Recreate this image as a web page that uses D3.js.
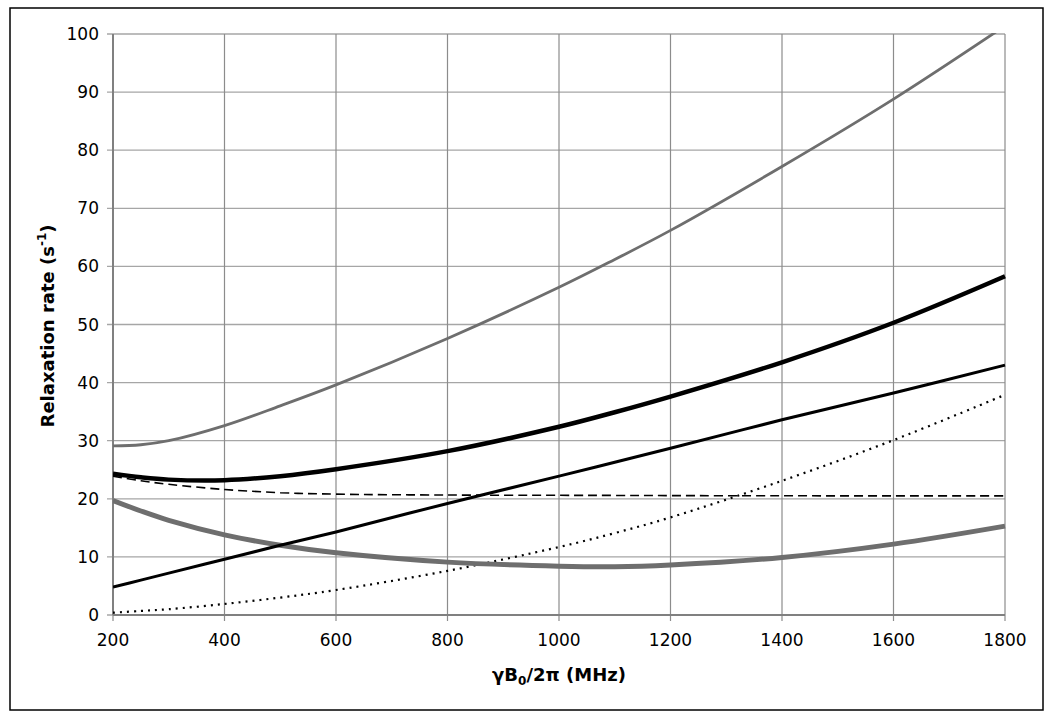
<!DOCTYPE html>
<html>
<head>
<meta charset="utf-8">
<script src="https://cdn.jsdelivr.net/npm/d3@7"></script>
<style>
  body { margin: 0; background: #fff; }
  svg text { font-family: "DejaVu Sans", Verdana, sans-serif; }
</style>
</head>
<body>
<svg id="canvas" width="1050" height="718"></svg>
<script>
// field strengths (MHz)
let freqs = [200, 250, 300, 400, 500, 600, 800, 1000, 1100, 1200, 1400, 1600, 1800]

// relaxation rates (s^-1)
let grayThin   = [29.1, 29.3, 30.0, 32.6, 36.0, 39.6, 47.6, 56.4, 61.2, 66.2, 77.2, 88.8, 101.4]
let blackThick = [24.3, 23.7, 23.3, 23.2, 23.9, 25.1, 28.2, 32.4, 34.9, 37.6, 43.5, 50.3, 58.3]
let blackMid   = [4.8, 6.0, 7.2, 9.6, 12.0, 14.3, 19.2, 23.9, 26.3, 28.7, 33.6, 38.2, 43.0]
let dashed     = [23.9, 23.1, 22.5, 21.6, 21.05, 20.8, 20.65, 20.6, 20.58, 20.55, 20.52, 20.5, 20.5]
let grayThick  = [19.7, 17.9, 16.3, 13.8, 12.0, 10.7, 9.1, 8.4, 8.3, 8.6, 9.9, 12.2, 15.3]
let dotted     = [0.4, 0.7, 1.0, 1.9, 3.0, 4.3, 7.6, 11.7, 14.1, 16.8, 23.1, 30.1, 37.9]

let xTicks = [200, 400, 600, 800, 1000, 1200, 1400, 1600, 1800]
let yTicks = [0, 10, 20, 30, 40, 50, 60, 70, 80, 90, 100]

let canvas = d3.select('#canvas')

let plotLeft = 113, plotRight = 1005, plotTop = 34, plotBottom = 615

let xScale = d3.scaleLinear().domain([200, 1800]).range([plotLeft, plotRight])
let yScale = d3.scaleLinear().domain([0, 100]).range([plotBottom, plotTop])

// outer frame
canvas.append('rect')
    .attr('x', 10).attr('y', 8)
    .attr('width', 1033).attr('height', 702)
    .attr('fill', 'none')
    .attr('stroke', '#000')
    .attr('stroke-width', 1.5)

// grid
canvas.append('g').selectAll('line')
    .data(yTicks)
    .enter().append('line')
    .attr('x1', plotLeft - 6).attr('x2', plotRight)
    .attr('y1', d => yScale(d)).attr('y2', d => yScale(d))
    .attr('stroke', '#a6a6a6').attr('stroke-width', 1.3)

canvas.append('g').selectAll('line')
    .data(xTicks)
    .enter().append('line')
    .attr('x1', d => xScale(d)).attr('x2', d => xScale(d))
    .attr('y1', plotTop).attr('y2', plotBottom + 6)
    .attr('stroke', '#8c8c8c').attr('stroke-width', 1.2)

// axis lines
canvas.append('line')
    .attr('x1', plotLeft).attr('x2', plotLeft)
    .attr('y1', plotTop).attr('y2', plotBottom)
    .attr('stroke', '#808080').attr('stroke-width', 2)
canvas.append('line')
    .attr('x1', plotLeft).attr('x2', plotRight)
    .attr('y1', plotBottom).attr('y2', plotBottom)
    .attr('stroke', '#808080').attr('stroke-width', 2)

// tick labels
canvas.append('g').selectAll('text')
    .data(yTicks)
    .enter().append('text')
    .attr('x', 99)
    .attr('y', d => yScale(d) + 6)
    .attr('text-anchor', 'end')
    .attr('font-size', 17)
    .attr('fill', '#000')
    .text(d => d)

canvas.append('g').selectAll('text')
    .data(xTicks)
    .enter().append('text')
    .attr('x', d => xScale(d))
    .attr('y', 646)
    .attr('text-anchor', 'middle')
    .attr('font-size', 17)
    .attr('fill', '#000')
    .text(d => d)

// axis titles
let yTitle = canvas.append('text')
    .attr('transform', 'translate(54, 326) rotate(-90)')
    .attr('text-anchor', 'middle')
    .attr('font-size', 18)
    .attr('font-weight', 'bold')
yTitle.append('tspan').text('Relaxation rate (s')
yTitle.append('tspan').attr('font-size', 12).attr('dy', -8).text('-1')
yTitle.append('tspan').attr('dy', 8).text(')')

let xTitle = canvas.append('text')
    .attr('x', 559).attr('y', 681)
    .attr('text-anchor', 'middle')
    .attr('font-size', 18)
    .attr('font-weight', 'bold')
xTitle.append('tspan').text('γB')
xTitle.append('tspan').attr('font-size', 12).attr('dy', 4).text('0')
xTitle.append('tspan').attr('dy', -4).text('/2π (MHz)')

// curves
canvas.append('clipPath').attr('id', 'plotClip')
    .append('rect')
    .attr('x', plotLeft).attr('y', plotTop - 1)
    .attr('width', plotRight - plotLeft + 2).attr('height', plotBottom - plotTop + 1)

let series = [
    { values: dotted,     color: '#000',    width: 2.2, dash: '2,5' },
    { values: dashed,     color: '#000',    width: 1.6, dash: '9,5' },
    { values: grayThick,  color: '#6e6e6e', width: 5,   dash: null },
    { values: blackMid,   color: '#000',    width: 3,   dash: null },
    { values: blackThick, color: '#000',    width: 4.5, dash: null },
    { values: grayThin,   color: '#6e6e6e', width: 2.8, dash: null }
]

let lineGen = d3.line()
    .x((d, i) => xScale(freqs[i]))
    .y(d => yScale(d))
    .curve(d3.curveCatmullRom.alpha(0.5))

canvas.append('g')
    .attr('clip-path', 'url(#plotClip)')
    .selectAll('path')
    .data(series)
    .enter().append('path')
    .attr('d', s => lineGen(s.values))
    .attr('fill', 'none')
    .attr('stroke', s => s.color)
    .attr('stroke-width', s => s.width)
    .attr('stroke-dasharray', s => s.dash)
</script>
</body>
</html>
